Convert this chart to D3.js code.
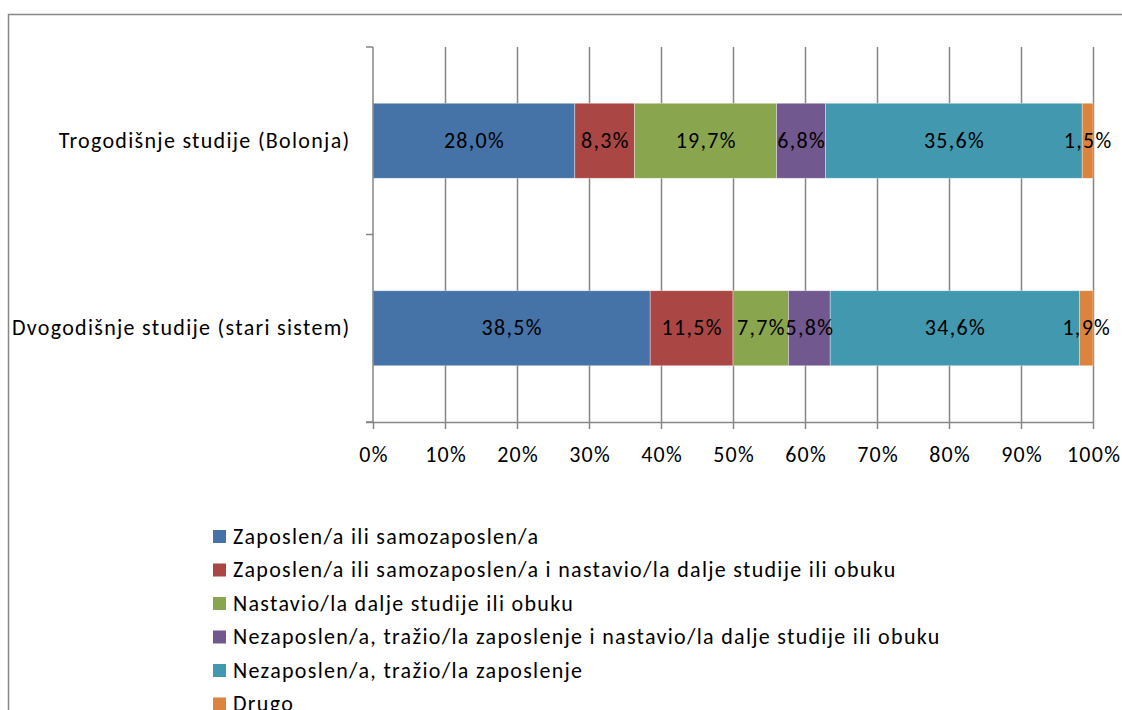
<!DOCTYPE html>
<html lang="bs">
<head>
<meta charset="UTF-8">
<title>Status diplomaca</title>
<script src="https://cdnjs.cloudflare.com/ajax/libs/d3/7.8.5/d3.min.js"></script>
<style>
  body { margin: 0; background: #fff; }
  svg text { font-family: Carlito, "Open Sans", sans-serif; fill: #000; font-size: 22px; letter-spacing: 1.3px; }
</style>
</head>
<body>
<svg id="chart" width="1122" height="710"></svg>
<script>
// categories (top to bottom)
const categories = ["Trogodišnje studije (Bolonja)", "Dvogodišnje studije (stari sistem)"];
const seriesNames = [
  "Zaposlen/a ili samozaposlen/a",
  "Zaposlen/a ili samozaposlen/a i nastavio/la dalje studije ili obuku",
  "Nastavio/la dalje studije ili obuku",
  "Nezaposlen/a, tražio/la zaposlenje i nastavio/la dalje studije ili obuku",
  "Nezaposlen/a, tražio/la zaposlenje",
  "Drugo"
];
const colors = ["#4572A7", "#AA4643", "#89A54E", "#71588F", "#4198AF", "#DB843D"];
// values per category, same order as seriesNames
const trogodisnje = [28.0, 8.3, 19.7, 6.8, 35.6, 1.5];
const dvogodisnje = [38.5, 11.5, 7.7, 5.8, 34.6, 1.9];
const xTicks = [0, 0.1, 0.2, 0.3, 0.4, 0.5, 0.6, 0.7, 0.8, 0.9, 1];

const svg = d3.select("#chart");
const gray = "#868686";

// chart frame
svg.append("path")
  .attr("d", "M8.5,710 V14.5 H1122")
  .attr("fill", "none").attr("stroke", gray).attr("stroke-width", 1.5);

const plot = { left: 373, right: 1093, top: 47, bottom: 422 };

const x = d3.scaleLinear().domain([0, 1]).range([plot.left, plot.right]);
const y = d3.scaleBand().domain(categories).range([plot.top, plot.bottom]).paddingInner(0.6).paddingOuter(0.3);

// grid lines
svg.append("g").selectAll("line").data(xTicks.slice(1)).join("line")
  .attr("x1", d => Math.round(x(d)) + 0.5).attr("x2", d => Math.round(x(d)) + 0.5)
  .attr("y1", plot.top).attr("y2", plot.bottom)
  .attr("stroke", gray).attr("stroke-width", 1.5);

// stacked, normalised to 100%
const rows = [trogodisnje, dvogodisnje].map((vals, i) => {
  const total = d3.sum(vals);
  let acc = 0;
  return vals.map((v, j) => {
    const seg = { cat: categories[i], j, v, x0: acc / total, x1: (acc + v) / total };
    acc += v;
    return seg;
  });
});

const segs = rows.flat();
svg.append("g").selectAll("rect").data(segs).join("rect")
  .attr("x", d => x(d.x0))
  .attr("width", d => x(d.x1) - x(d.x0))
  .attr("y", d => y(d.cat))
  .attr("height", y.bandwidth())
  .attr("fill", d => colors[d.j])
  .attr("stroke", "#fff").attr("stroke-opacity", 0.5).attr("stroke-width", 0.7);

svg.append("g").selectAll("text").data(segs).join("text")
  .attr("x", d => (x(d.x0) + x(d.x1)) / 2 + 0.6)
  .attr("y", d => y(d.cat) + y.bandwidth() / 2 + 7)
  .attr("text-anchor", "middle")
  .text(d => d.v.toFixed(1).replace(".", ",") + "%");

// x axis
const xAxis = d3.axisBottom(x).tickValues(xTicks).tickSize(7)
  .tickFormat(d => Math.round(d * 100) + "%");
const gx = svg.append("g").attr("transform", `translate(0,${plot.bottom})`).call(xAxis);
gx.attr("font-size", null).attr("font-family", null);
gx.select(".domain").attr("stroke", gray).attr("stroke-width", 1.5)
  .attr("d", `M${plot.left - 7},0.5H${plot.right}`);
gx.selectAll(".tick line").attr("stroke", gray).attr("stroke-width", 1.5);
gx.selectAll(".tick text").attr("dy", 0).attr("y", 40).attr("dx", 0.6).attr("fill", "#000");

// y axis: line with ticks at band boundaries
const yTickPos = [plot.top, (plot.top + plot.bottom) / 2, plot.bottom];
svg.append("line")
  .attr("x1", plot.left).attr("x2", plot.left)
  .attr("y1", plot.top).attr("y2", plot.bottom)
  .attr("stroke", gray).attr("stroke-width", 1.5);
svg.append("g").selectAll("line").data(yTickPos).join("line")
  .attr("x1", plot.left - 7).attr("x2", plot.left)
  .attr("y1", d => d).attr("y2", d => d)
  .attr("stroke", gray).attr("stroke-width", 1.5);

svg.append("g").selectAll("text").data(categories).join("text")
  .attr("x", 350.5)
  .attr("y", d => y(d) + y.bandwidth() / 2 + 7)
  .attr("text-anchor", "end")
  .text(d => d);

// legend
const legend = svg.append("g").selectAll("g").data(seriesNames).join("g")
  .attr("transform", (d, i) => `translate(213,${536.5 + i * 33.5})`);
legend.append("rect")
  .attr("x", 0).attr("y", -6.5).attr("width", 13).attr("height", 13)
  .attr("fill", (d, i) => colors[i]);
legend.append("text")
  .attr("x", 20).attr("y", 7)
  .text(d => d);
</script>
</body>
</html>
